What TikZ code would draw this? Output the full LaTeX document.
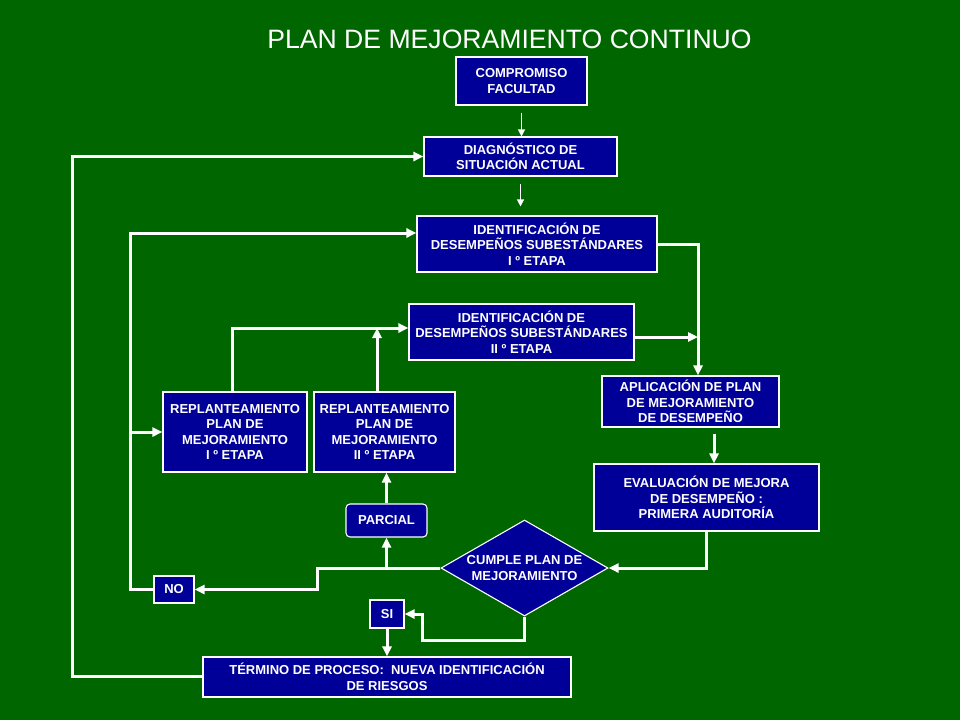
\documentclass[tikz,border=0pt]{standalone}
\usepackage{fontspec}
\setmainfont{Liberation Sans}
\usetikzlibrary{shapes.geometric, arrows.meta}

\definecolor{fondo}{RGB}{0,102,0}
\definecolor{azul}{RGB}{0,0,153}

\begin{document}
\begin{tikzpicture}[x = 1pt, y = -1pt,
  caja/.style = {draw = white, line width = 1.1pt, fill = azul, text = white, align = center,
    inner sep = 0pt, font = \bfseries\fontsize{13}{15.6}\selectfont},
  flecha/.style = {white, line width = 3pt, -{Triangle[length = 10pt, width = 9pt]}},
  fina/.style = {white, line width = 1.2pt, -{Triangle[length = 7pt, width = 7pt]}}]

\fill[fondo] (0, 0) rectangle (960, 720);
\useasboundingbox (0, 0) rectangle (960, 720);

\node[white, anchor = base, font = \fontsize{26.6}{30}\selectfont] (titulo) at (509.5, 48)
   {PLAN DE MEJORAMIENTO CONTINUO};

\node[caja, minimum width = 131pt, minimum height = 48pt] (comp) at (521.5, 81)
   {COMPROMISO\\FACULTAD};
\node[caja, minimum width = 193pt, minimum height = 39pt] (diag) at (520.5, 156.5)
   {DIAGNÓSTICO DE\\SITUACIÓN ACTUAL};
\node[caja, minimum width = 240pt, minimum height = 56pt] (ident1) at (537, 244)
   {IDENTIFICACIÓN DE\\DESEMPEÑOS SUBESTÁNDARES\\I º ETAPA};
\node[caja, minimum width = 225pt, minimum height = 56pt] (ident2) at (521.5, 332)
   {IDENTIFICACIÓN DE\\DESEMPEÑOS SUBESTÁNDARES\\II º ETAPA};
\node[caja, minimum width = 177pt, minimum height = 51pt] (aplic) at (690.5, 401.5)
   {APLICACIÓN DE PLAN\\DE MEJORAMIENTO\\DE DESEMPEÑO};
\node[caja, minimum width = 225pt, minimum height = 67pt] (eval) at (706.5, 497.5)
   {EVALUACIÓN DE MEJORA\\DE DESEMPEÑO :\\PRIMERA AUDITORÍA};
\node[caja, minimum width = 144pt, minimum height = 80pt] (repl1) at (235, 432)
   {REPLANTEAMIENTO\\PLAN DE\\MEJORAMIENTO\\I º ETAPA};
\node[caja, minimum width = 141pt, minimum height = 80pt] (repl2) at (384.5, 432)
   {REPLANTEAMIENTO\\PLAN DE\\MEJORAMIENTO\\II º ETAPA};
\node[caja, rounded corners = 4pt, minimum width = 81pt, minimum height = 33pt] (parcial) at (386.5, 520.5)
   {PARCIAL};
\node[caja, diamond, aspect = 1.74, minimum width = 167pt, minimum height = 96pt] (cumple) at (524.5, 568)
   {CUMPLE PLAN DE\\MEJORAMIENTO};
\node[caja, minimum width = 40pt, minimum height = 27pt] (no) at (174, 589.5) {NO};
\node[caja, minimum width = 34pt, minimum height = 28pt] (si) at (387, 614) {SI};
\node[caja, minimum width = 368pt, minimum height = 40pt] (term) at (387, 677)
   {TÉRMINO DE PROCESO:\ \ NUEVA IDENTIFICACIÓN\\DE RIESGOS};

\coordinate (externo) at (72, 0);
\coordinate (interno) at (130, 0);
\coordinate (codo) at (317, 0);
\coordinate (derecha) at (698, 0);
\coordinate (vuelta) at (422, 640);

\draw[fina] ([yshift = -7pt]comp.south) -- (comp.south |- diag.north);
\draw[fina] ([yshift = -7pt]diag.south) -- ([yshift = 9pt]diag.south |- ident1.north);

\draw[flecha] ([yshift = 1pt]term.west) -- ([yshift = 1pt]term.west -| externo) |- (diag.west);
\draw[flecha] (no.west) -- (no.west -| interno) |- ([yshift = 11pt]ident1.west);
\draw[flecha] (repl1.west -| interno) -- (repl1.west);

\draw[flecha] ([xshift = -3pt]repl1.north) |- ([yshift = 4pt]ident2.west);
\draw[flecha] ([xshift = -7.5pt]repl2.north) -- ([xshift = -7.5pt, yshift = 4pt]repl2.north |- ident2.west);
\draw[flecha] (parcial.north) -- (parcial.north |- repl2.south);

\draw[flecha] (cumple.west) -| (parcial.south);
\draw[flecha] (cumple.west) -- (cumple.west -| codo) |- (no.east);
\draw[flecha] (cumple.south) |- (vuelta) |- (si.east);
\draw[flecha] (si.south) -- (si.south |- term.north);

\draw[flecha] (ident1.east) -| (derecha |- aplic.north);
\draw[flecha] ([yshift = -5pt]ident2.east) -- ([yshift = -5pt]ident2.east -| derecha);
\draw[flecha] ([xshift = 7.5pt, yshift = -6pt]eval.north |- aplic.south) -- ([xshift = 7.5pt]eval.north);
\draw[flecha] (eval.south) |- (cumple.east);

\end{tikzpicture}
\end{document}
